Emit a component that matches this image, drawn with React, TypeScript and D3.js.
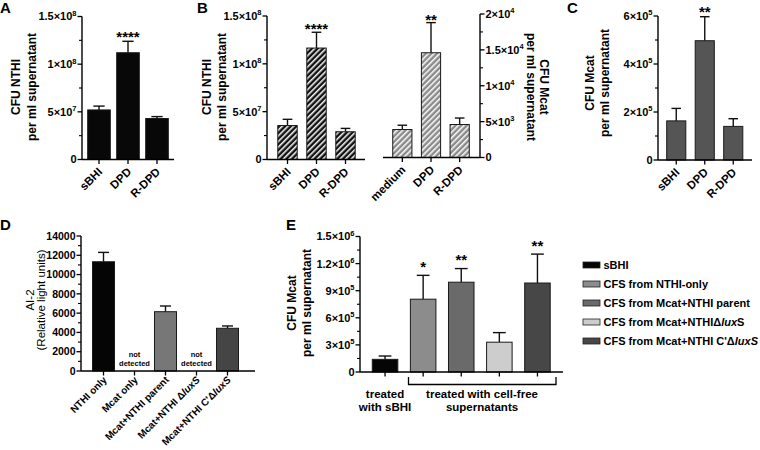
import React from "react";
import * as d3 from "d3";

const FONT = "'Liberation Sans', Arial, Helvetica, sans-serif";

// Panel A
const aCats = ["sBHI", "DPD", "R-DPD"];
const aMeans = [5.2e7, 1.12e8, 4.3e7];
const aErrs = [4e6, 1.2e7, 2e6];
const aTicks = [0, 5e7, 1e8, 1.5e8];
const aTickLabels = ["0", "5×10^7", "1×10^8", "1.5×10^8"];
const aStars = ["", "****", ""];

// Panel B (left, NTHI)
const bCats = ["sBHI", "DPD", "R-DPD"];
const bMeans = [3.55e7, 1.165e8, 2.9e7];
const bErrs = [6.5e6, 1.65e7, 3.5e6];
const bTicks = [0, 5e7, 1e8, 1.5e8];
const bTickLabels = ["0", "5×10^7", "1×10^8", "1.5×10^8"];
const bStars = ["", "****", ""];

// Panel B (right, Mcat)
const brCats = ["medium", "DPD", "R-DPD"];
const brMeans = [3.9e3, 1.46e4, 4.6e3];
const brErrs = [600, 4.2e3, 900];
const brTicks = [0, 5e3, 1e4, 1.5e4, 2e4];
const brTickLabels = ["0", "5×10^3", "1×10^4", "1.5×10^4", "2×10^4"];
const brStars = ["", "**", ""];

// Panel C
const cCats = ["sBHI", "DPD", "R-DPD"];
const cMeans = [1.63e5, 4.97e5, 1.4e5];
const cErrs = [5.2e4, 1.0e5, 3.2e4];
const cTicks = [0, 2e5, 4e5, 6e5];
const cTickLabels = ["0", "2×10^5", "4×10^5", "6×10^5"];
const cStars = ["", "**", ""];

// Panel D
const dCats = ["NTHI only", "Mcat only", "Mcat+NTHI parent", "Mcat+NTHI Δ_luxS_", "Mcat+NTHI C'Δ_luxS_"];
const dMeans = [11330, null, 6150, null, 4430];
const dErrs = [970, 0, 590, 0, 240];
const dTicks = [0, 2000, 4000, 6000, 8000, 10000, 12000, 14000];
const dColors = ["#050505", "#000", "#777777", "#000", "#454545"];

// Panel E
const eCats = ["sBHI", "CFS from NTHI-only", "CFS from Mcat+NTHI parent", "CFS from Mcat+NTHIΔ_lux_S", "CFS from Mcat+NTHI C'Δ_luxS_"];
const eMeans = [1.4e5, 8.06e5, 9.94e5, 3.3e5, 9.85e5];
const eErrs = [3.7e4, 2.64e5, 1.51e5, 1.06e5, 3.2e5];
const eTicks = [0, 3e5, 6e5, 9e5, 1.2e6, 1.5e6];
const eTickLabels = ["0", "3×10^5", "6×10^5", "9×10^5", "1.2×10^6", "1.5×10^6"];
const eStars = ["", "*", "**", "", "**"];
const eColors = ["#050505", "#8c8c8c", "#6a6a6a", "#cdcdcd", "#474747"];

function band(cats: string[], r0: number, r1: number, pi: number) {
  return d3.scaleBand<string>().domain(cats).range([r0, r1]).paddingInner(pi).paddingOuter(pi / 2);
}

function Rich({ s }: { s: string }) {
  const parts = s.split("_");
  return (
    <>
      {parts.map((p, i) => (
        <tspan key={i} fontStyle={i % 2 === 1 ? "italic" : "normal"}>{p}</tspan>
      ))}
    </>
  );
}

function SciText({ x, y, label, anchor, fs }: any) {
  const [base, exp] = label.split("^");
  return (
    <text x={x} y={y + fs * 0.36} textAnchor={anchor} fontSize={fs} fontWeight="bold" fontFamily={FONT}>
      {base}
      {exp !== undefined && (
        <tspan dy={-fs * 0.42} fontSize={fs * 0.68}>{exp}</tspan>
      )}
    </text>
  );
}

function YAxis({ y, x, ticks, labels, side, fs = 11 }: any) {
  const dir = side === "right" ? 1 : -1;
  const [d0, d1] = y.domain();
  const minor: number[] = [];
  for (let i = 0; i < ticks.length - 1; i++) minor.push((ticks[i] + ticks[i + 1]) / 2);
  return (
    <g>
      <line x1={x} x2={x} y1={y(d0)} y2={y(d1)} stroke="#000" strokeWidth={1.4} />
      {ticks.map((t: number, i: number) => (
        <g key={i}>
          <line x1={x} x2={x + dir * 4.5} y1={y(t)} y2={y(t)} stroke="#000" strokeWidth={1.3} />
          <SciText x={x + dir * 5.5} y={y(t)} label={labels[i]} anchor={side === "right" ? "start" : "end"} fs={fs} />
        </g>
      ))}
      {minor.map((t, i) => (
        <line key={"m" + i} x1={x} x2={x + dir * 3} y1={y(t)} y2={y(t)} stroke="#000" strokeWidth={1.1} />
      ))}
    </g>
  );
}

function Bars({ xs, y, cats, means, errs, fills, stars, starGap = 8, starFs = 15 }: any) {
  const bw = xs.bandwidth();
  return (
    <g>
      {cats.map((c: string, i: number) => {
        const v = means[i];
        if (v === null || v === undefined) return null;
        const cx = xs(c)! + bw / 2;
        const top = y(v + errs[i]);
        return (
          <g key={i}>
            <line x1={cx} x2={cx} y1={y(v)} y2={top} stroke="#111" strokeWidth={1.4} />
            <line x1={cx - bw / 4} x2={cx + bw / 4} y1={top} y2={top} stroke="#111" strokeWidth={1.4} />
            <rect x={xs(c)} y={y(v)} width={bw} height={y(0) - y(v)} fill={fills[i]} stroke="#1a1a1a" strokeWidth={1} />
          </g>
        );
      })}
      {stars &&
        cats.map((c: string, i: number) =>
          stars[i] ? (
            <text key={"s" + i} x={xs(c)! + bw / 2} y={y(means[i] + errs[i]) - starGap + starFs * 0.57} textAnchor="middle" fontSize={starFs} fontWeight="bold" fontFamily={FONT}>
              {stars[i]}
            </text>
          ) : null
        )}
    </g>
  );
}

function XAxis({ xs, y0, x0, x1, cats, labels = true, fs = 11.5, dy = 13 }: any) {
  const bw = xs.bandwidth();
  return (
    <g>
      <line x1={x0} x2={x1} y1={y0} y2={y0} stroke="#000" strokeWidth={1.4} />
      {cats.map((c: string, i: number) => {
        const cx = xs(c)! + bw / 2;
        return (
          <g key={i}>
            <line x1={cx} x2={cx} y1={y0} y2={y0 + 4.5} stroke="#000" strokeWidth={1.3} />
            {labels && (
              <text transform={`translate(${cx + 4},${y0 + dy}) rotate(-45)`} textAnchor="end" fontSize={fs} fontWeight="bold" fontFamily={FONT}>
                <Rich s={c} />
              </text>
            )}
          </g>
        );
      })}
    </g>
  );
}

function YLabel({ x1, x2, cy, l1, l2, rot = -90, fs = 12, bold2 = true }: any) {
  return (
    <g fontFamily={FONT} fontSize={fs}>
      <text transform={`translate(${x1},${cy}) rotate(${rot})`} textAnchor="middle" fontWeight="bold">{l1}</text>
      <text transform={`translate(${x2},${cy}) rotate(${rot})`} textAnchor="middle" fontWeight={bold2 ? "bold" : "normal"}>{l2}</text>
    </g>
  );
}

export default function App() {
  const xA = band(aCats, 84.5, 171.5, 0.22);
  const yA = d3.scaleLinear().domain([0, 1.5e8]).range([159.5, 16.5]);

  const xB = band(bCats, 273, 360, 0.33);
  const yB = d3.scaleLinear().domain([0, 1.5e8]).range([159.5, 16]);

  const xBR = band(brCats, 388, 474, 0.33);
  const yBR = d3.scaleLinear().domain([0, 2e4]).range([157.5, 14]);

  const xC = band(cCats, 662, 747.5, 0.33);
  const yC = d3.scaleLinear().domain([0, 6e5]).range([160, 16]);

  const xD = band(dCats, 88, 243, 0.29);
  const yD = d3.scaleLinear().domain([0, 14000]).range([371, 236]);
  const dTickLabels = dTicks.map((t) => d3.format("d")(t));

  const xE = band(eCats, 366, 556.5, 0.33);
  const yE = d3.scaleLinear().domain([0, 1.5e6]).range([372, 236.5]);

  return (
    <svg width={760} height={450} style={{ position: "absolute", left: 0, top: 0, background: "#fff" }} fontFamily={FONT}>
      <defs>
        <pattern id="hatchK" patternUnits="userSpaceOnUse" width={4} height={4} patternTransform="rotate(45)">
          <rect width={4} height={4} fill="#111" />
          <line x1={0.8} y1={0} x2={0.8} y2={4} stroke="#fff" strokeWidth={1.5} />
        </pattern>
        <pattern id="hatchG" patternUnits="userSpaceOnUse" width={4} height={4} patternTransform="rotate(45)">
          <rect width={4} height={4} fill="#8a8a8a" />
          <line x1={0.8} y1={0} x2={0.8} y2={4} stroke="#fff" strokeWidth={1.5} />
        </pattern>
      </defs>
      <rect width={760} height={450} fill="#fff" />

      {/* Panel letters */}
      <g fontSize={15} fontWeight="bold">
        <text x={0} y={12.5}>A</text>
        <text x={197} y={12.5}>B</text>
        <text x={567} y={12.5}>C</text>
        <text x={0} y={229.5}>D</text>
        <text x={286} y={230}>E</text>
      </g>

      {/* Panel A */}
      <YLabel x1={20} x2={35.5} cy={87} l1="CFU NTHI" l2="per ml supernatant" />
      <Bars xs={xA} y={yA} cats={aCats} means={aMeans} errs={aErrs} fills={["#080808", "#080808", "#080808"]} stars={aStars} starGap={8} />
      <YAxis y={yA} x={82} ticks={aTicks} labels={aTickLabels} />
      <XAxis xs={xA} y0={yA(0)} x0={82} x1={174} cats={aCats} />

      {/* Panel B left */}
      <YLabel x1={211} x2={226} cy={87} l1="CFU NTHI" l2="per ml supernatant" />
      <Bars xs={xB} y={yB} cats={bCats} means={bMeans} errs={bErrs} fills={["url(#hatchK)", "url(#hatchK)", "url(#hatchK)"]} stars={bStars} starGap={7} />
      <YAxis y={yB} x={267} ticks={bTicks} labels={bTickLabels} />
      <XAxis xs={xB} y0={yB(0)} x0={267} x1={365} cats={bCats} />

      {/* Panel B right */}
      <Bars xs={xBR} y={yBR} cats={brCats} means={brMeans} errs={brErrs} fills={["url(#hatchG)", "url(#hatchG)", "url(#hatchG)"]} stars={brStars} starGap={6} />
      <YAxis y={yBR} x={480} ticks={brTicks} labels={brTickLabels} side="right" />
      <XAxis xs={xBR} y0={yBR(0)} x0={383} x1={480} cats={brCats} />
      <YLabel x1={540} x2={527} cy={87} l1="CFU Mcat" l2="per ml supernatant" rot={90} />

      {/* Panel C */}
      <YLabel x1={594} x2={609} cy={83} l1="CFU Mcat" l2="per ml supernatant" />
      <Bars xs={xC} y={yC} cats={cCats} means={cMeans} errs={cErrs} fills={["#555", "#555", "#555"]} stars={cStars} starGap={8.5} />
      <YAxis y={yC} x={658} ticks={cTicks} labels={cTickLabels} />
      <XAxis xs={xC} y0={yC(0)} x0={658} x1={752} cats={cCats} />

      {/* Panel D */}
      <g fontFamily={FONT} fontSize={11.5}>
        <text transform="translate(34,300) rotate(-90)" textAnchor="middle">AI-2</text>
        <text transform="translate(45,300) rotate(-90)" textAnchor="middle">(Relative light units)</text>
      </g>
      <Bars xs={xD} y={yD} cats={dCats} means={dMeans} errs={dErrs} fills={dColors} />
      {dCats.map((c, i) =>
        dMeans[i] === null ? (
          <g key={i} fontSize={7.5} fontWeight="bold" textAnchor="middle">
            <text x={xD(c)! + xD.bandwidth() / 2} y={356.5}>not</text>
            <text x={xD(c)! + xD.bandwidth() / 2} y={365.5}>detected</text>
          </g>
        ) : null
      )}
      <YAxis y={yD} x={81} ticks={dTicks} labels={dTickLabels} fs={10.5} />
      <XAxis xs={xD} y0={yD(0)} x0={81} x1={255} cats={dCats} fs={10} dy={9.5} />

      {/* Panel E */}
      <YLabel x1={296} x2={311} cy={303} l1="CFU Mcat" l2="per ml supernatant" />
      <Bars xs={xE} y={yE} cats={eCats} means={eMeans} errs={eErrs} fills={eColors} stars={eStars} starGap={12} />
      <YAxis y={yE} x={360} ticks={eTicks} labels={eTickLabels} />
      <XAxis xs={xE} y0={yE(0)} x0={360} x1={563} cats={eCats} labels={false} />
      <path d="M408.5,377 V384.5 H556 V377" fill="none" stroke="#000" strokeWidth={1.3} />
      <g fontSize={11.5} fontWeight="bold" textAnchor="middle">
        <text x={xE(eCats[0])! + xE.bandwidth() / 2} y={398}>treated</text>
        <text x={xE(eCats[0])! + xE.bandwidth() / 2} y={411}>with sBHI</text>
        <text x={482} y={398}>treated with cell-free</text>
        <text x={482} y={411}>supernatants</text>
      </g>
      {/* Legend */}
      {eCats.map((c, i) => (
        <g key={i}>
          <rect x={583} y={262 + i * 19} width={17} height={6} fill={eColors[i]} stroke="#222" strokeWidth={0.8} />
          <text x={603.5} y={268.5 + i * 19} fontSize={11} fontWeight="bold">
            <Rich s={c} />
          </text>
        </g>
      ))}
    </svg>
  );
}
